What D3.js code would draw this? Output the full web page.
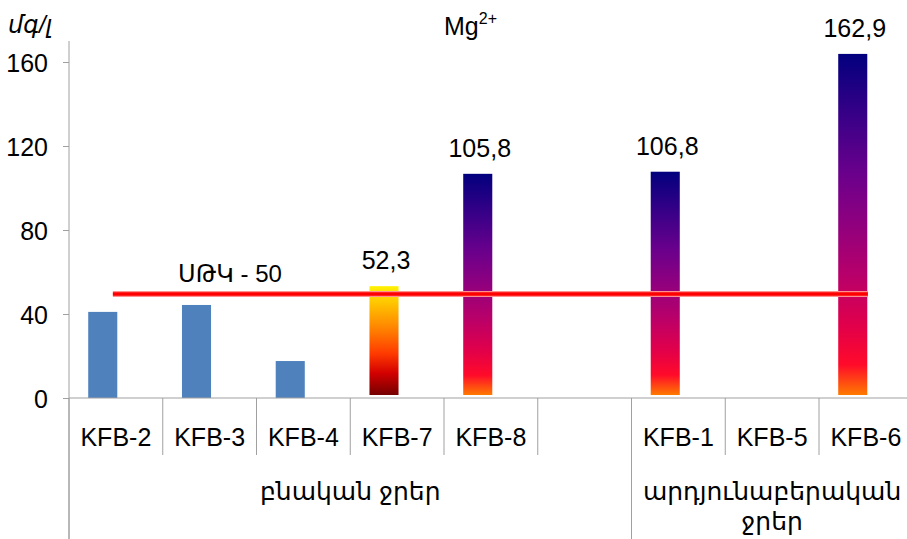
<!DOCTYPE html>
<html>
<head>
<meta charset="utf-8">
<script src="https://cdn.jsdelivr.net/npm/d3@7"></script>
<style>
    body { margin: 0; background: #fff; }
    svg text { font-family: "Liberation Sans", Arial, "DejaVu Sans", sans-serif; fill: #000; }
</style>
</head>
<body>
<div id="chart"></div>
<script>
const categories = ["KFB-2", "KFB-3", "KFB-4", "KFB-7", "KFB-8", "", "KFB-1", "KFB-5", "KFB-6"];
const values = [41, 44.3, 17.6, 52.3, 105.8, null, 106.8, null, 162.9];
const valueLabels = [null, null, null, "52,3", "105,8", null, "106,8", null, "162,9"];
const groupNames = ["բնական ջրեր", "արդյունաբերական ջրեր"];
const groupOf = [0, 0, 0, 0, 0, 0, 1, 1, 1];
const yTicks = [0, 40, 80, 120, 160];
const limitValue = 50;
const limitLabel = "ՍԹԿ - 50";
const unitLabel = "մգ/լ";

const width = 907;
const height = 539;
const margin = { top: 41, left: 69, bottom: 141 };
const slot = 93.75;

// keys must be unique, the empty slot gets its index
const keys = categories.map((c, i) => i + ":" + c);

const xScale = d3.scaleBand()
    .domain(keys)
    .range([margin.left, margin.left + slot * categories.length])
    .padding(0);

const yScale = d3.scaleLinear()
    .domain([0, 170])
    .range([height - margin.bottom, margin.top]);

const svg = d3.select("#chart")
    .append("svg")
    .attr("width", width)
    .attr("height", height);

const defs = svg.append("defs");

function addGradient(id, stops) {
    const g = defs.append("linearGradient")
        .attr("id", id)
        .attr("x1", 0).attr("y1", 1)
        .attr("x2", 0).attr("y2", 0);
    g.selectAll("stop")
        .data(stops)
        .enter()
        .append("stop")
        .attr("offset", d => d[0])
        .attr("stop-color", d => d[1]);
}

addGradient("fire", [
    [0, "#750000"], [0.2, "#d20000"], [0.38, "#ff3a00"],
    [0.58, "#ff7a00"], [0.8, "#ffb800"], [1, "#fff200"]
]);
addGradient("plum", [
    [0, "#ff7a00"], [0.09, "#ff0a2a"], [0.2, "#e2004a"], [0.35, "#b8006a"],
    [0.5, "#90007e"], [0.65, "#6a008c"], [0.8, "#3e0088"], [1, "#02007e"]
]);

// which fill goes on which bar
const barFill = {
    "KFB-2": "#4f81bd", "KFB-3": "#4f81bd", "KFB-4": "#4f81bd",
    "KFB-7": "url(#fire)", "KFB-8": "url(#plum)",
    "KFB-1": "url(#plum)", "KFB-6": "url(#plum)"
};

const bw = xScale.bandwidth();
const barW = bw * 0.31;
const barOff = bw * 0.205;
const y0 = yScale(0);

const bars = categories
    .map((c, i) => ({ key: keys[i], label: c, value: values[i], text: valueLabels[i] }))
    .filter(d => d.value !== null);

svg.selectAll("rect.bar")
    .data(bars)
    .enter()
    .append("rect")
    .attr("class", "bar")
    .attr("x", d => xScale(d.key) + barOff)
    .attr("width", barW)
    .attr("y", d => barFill[d.label].startsWith("url") ? yScale(d.value) - 2 : yScale(d.value))
    .attr("height", d => barFill[d.label].startsWith("url")
        ? (y0 - 3) - (yScale(d.value) - 2)
        : y0 - yScale(d.value))
    .attr("fill", d => barFill[d.label]);

svg.selectAll("text.value")
    .data(bars.filter(d => d.text))
    .enter()
    .append("text")
    .attr("class", "value")
    .attr("x", d => xScale(d.key) + barOff + barW / 2 + 2)
    .attr("y", d => yScale(d.value) - 19)
    .attr("text-anchor", "middle")
    .attr("font-size", 25)
    .text(d => d.text);

// y axis
const yAxis = svg.append("g")
    .attr("transform", `translate(${margin.left},0)`)
    .call(d3.axisLeft(yScale).tickValues(yTicks).tickSize(6).tickSizeOuter(0).tickPadding(15));
yAxis.select(".domain").remove();
yAxis.selectAll(".tick line").attr("stroke", "#a0a0a0");
yAxis.selectAll(".tick text")
    .attr("font-size", 25)
    .attr("font-family", null)
    .attr("dy", "0.36em");

const axisColor = "#a0a0a0";
svg.append("line")
    .attr("x1", margin.left).attr("x2", margin.left)
    .attr("y1", margin.top).attr("y2", height)
    .attr("stroke", axisColor);

// x axis with category boundaries
svg.append("line")
    .attr("x1", margin.left).attr("x2", xScale.range()[1])
    .attr("y1", y0).attr("y2", y0)
    .attr("stroke", axisColor);

const bounds = keys.map((k, i) => ({ x: xScale(k), i: i }));
bounds.push({ x: xScale.range()[1], i: keys.length });
svg.selectAll("line.sep")
    .data(bounds)
    .enter()
    .append("line")
    .attr("class", "sep")
    .attr("x1", d => d.x).attr("x2", d => d.x)
    .attr("y1", y0)
    .attr("y2", d => (d.i === 0 || d.i === keys.length || groupOf[d.i] !== groupOf[d.i - 1]) ? height : y0 + 57)
    .attr("stroke", axisColor);

svg.selectAll("text.cat")
    .data(keys)
    .enter()
    .append("text")
    .attr("class", "cat")
    .attr("x", d => xScale(d) + bw / 2)
    .attr("y", y0 + 48)
    .attr("text-anchor", "middle")
    .attr("font-size", 25)
    .text((d, i) => categories[i]);

// group labels, wrapped to the group width
groupNames.forEach((name, g) => {
    const idx = groupOf.map((v, i) => v === g ? i : -1).filter(i => i >= 0);
    const gx0 = xScale(keys[idx[0]]);
    const gx1 = xScale(keys[idx[idx.length - 1]]) + bw;
    const t = svg.append("text")
        .attr("x", (gx0 + gx1) / 2)
        .attr("y", y0 + 102)
        .attr("text-anchor", "middle")
        .attr("font-size", 25);
    const words = name.split(" ");
    let line = [];
    let tspan = t.append("tspan").attr("x", (gx0 + gx1) / 2);
    words.forEach(w => {
        line.push(w);
        tspan.text(line.join(" "));
        if (tspan.node().getComputedTextLength() > gx1 - gx0 - 10 && line.length > 1) {
            line.pop();
            tspan.text(line.join(" "));
            line = [w];
            tspan = t.append("tspan").attr("x", (gx0 + gx1) / 2).attr("dy", 30).text(w);
        }
    });
});

// limit line
const lx0 = xScale(keys[0]) + bw / 2 - 3;
const lx1 = xScale(keys[keys.length - 1]) + bw / 2 + 2;
svg.append("line")
    .attr("x1", lx0).attr("x2", lx1)
    .attr("y1", yScale(limitValue) + 1).attr("y2", yScale(limitValue) + 1)
    .attr("stroke", "#ff9090").attr("stroke-width", 6);
svg.append("line")
    .attr("x1", lx0).attr("x2", lx1)
    .attr("y1", yScale(limitValue) + 1).attr("y2", yScale(limitValue) + 1)
    .attr("stroke", "#ff0000").attr("stroke-width", 3.5);

svg.append("text")
    .attr("x", 230)
    .attr("y", yScale(limitValue) - 11)
    .attr("text-anchor", "middle")
    .attr("font-size", 24)
    .text(limitLabel);

// titles
const title = svg.append("text")
    .attr("x", 444)
    .attr("y", 35)
    .attr("font-size", 25);
title.append("tspan").text("Mg");
title.append("tspan").attr("font-size", 16).attr("dy", -11).text("2+");

svg.append("text")
    .attr("x", 8)
    .attr("y", 33)
    .attr("font-size", 24)
    .attr("font-style", "italic")
    .text(unitLabel);
</script>
</body>
</html>
